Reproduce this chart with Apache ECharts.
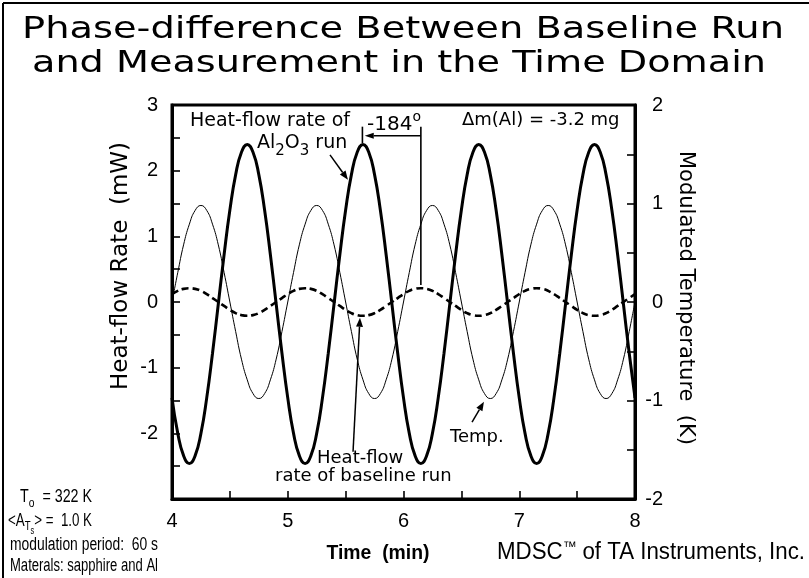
<!DOCTYPE html>
<html>
<head>
<meta charset="utf-8">
<script src="https://cdn.jsdelivr.net/npm/echarts@6/dist/echarts.min.js"></script>
<style>
  html, body { margin: 0; padding: 0; background: #fff; }
  #chart { width: 809px; height: 578px; }
</style>
</head>
<body>
<div id="chart"></div>
<script>
// Time axis samples (min)
const timeMin = [
  4.00, 4.05, 4.10, 4.15, 4.20, 4.25, 4.30, 4.35, 4.40, 4.45, 4.50, 4.55, 4.60, 4.65, 4.70, 4.75, 4.80, 4.85, 4.90, 4.95,
  5.00, 5.05, 5.10, 5.15, 5.20, 5.25, 5.30, 5.35, 5.40, 5.45, 5.50, 5.55, 5.60, 5.65, 5.70, 5.75, 5.80, 5.85, 5.90, 5.95,
  6.00, 6.05, 6.10, 6.15, 6.20, 6.25, 6.30, 6.35, 6.40, 6.45, 6.50, 6.55, 6.60, 6.65, 6.70, 6.75, 6.80, 6.85, 6.90, 6.95,
  7.00, 7.05, 7.10, 7.15, 7.20, 7.25, 7.30, 7.35, 7.40, 7.45, 7.50, 7.55, 7.60, 7.65, 7.70, 7.75, 7.80, 7.85, 7.90, 7.95,
  8.00
];

// Heat-flow rate of the Al2O3 (sapphire) run, mW
const heatFlowSample = [
  -1.46, -2.00, -2.34, -2.46, -2.34, -2.00, -1.46, -0.78, -0.03, 0.72, 1.40, 1.94, 2.28, 2.40, 2.28, 1.94, 1.40, 0.72, -0.03, -0.78,
  -1.46, -2.00, -2.34, -2.46, -2.34, -2.00, -1.46, -0.78, -0.03, 0.72, 1.40, 1.94, 2.28, 2.40, 2.28, 1.94, 1.40, 0.72, -0.03, -0.78,
  -1.46, -2.00, -2.34, -2.46, -2.34, -2.00, -1.46, -0.78, -0.03, 0.72, 1.40, 1.94, 2.28, 2.40, 2.28, 1.94, 1.40, 0.72, -0.03, -0.78,
  -1.46, -2.00, -2.34, -2.46, -2.34, -2.00, -1.46, -0.78, -0.03, 0.72, 1.40, 1.94, 2.28, 2.40, 2.28, 1.94, 1.40, 0.72, -0.03, -0.78,
  -1.46
];

// Heat-flow rate of the baseline (empty pans) run, mW
const heatFlowBaseline = [
  0.12, 0.17, 0.20, 0.21, 0.20, 0.17, 0.12, 0.06, 0.00, -0.06, -0.12, -0.17, -0.20, -0.21, -0.20, -0.17, -0.12, -0.06, 0.00, 0.06,
  0.12, 0.17, 0.20, 0.21, 0.20, 0.17, 0.12, 0.06, 0.00, -0.06, -0.12, -0.17, -0.20, -0.21, -0.20, -0.17, -0.12, -0.06, 0.00, 0.06,
  0.12, 0.17, 0.20, 0.21, 0.20, 0.17, 0.12, 0.06, 0.00, -0.06, -0.12, -0.17, -0.20, -0.21, -0.20, -0.17, -0.12, -0.06, 0.00, 0.06,
  0.12, 0.17, 0.20, 0.21, 0.20, 0.17, 0.12, 0.06, 0.00, -0.06, -0.12, -0.17, -0.20, -0.21, -0.20, -0.17, -0.12, -0.06, 0.00, 0.06,
  0.12
];

// Modulated sample temperature, K (right axis)
const modulatedTemp = [
  0.00, 0.30, 0.58, 0.79, 0.93, 0.98, 0.93, 0.79, 0.58, 0.30, 0.00, -0.30, -0.58, -0.79, -0.93, -0.98, -0.93, -0.79, -0.58, -0.30,
  0.00, 0.30, 0.58, 0.79, 0.93, 0.98, 0.93, 0.79, 0.58, 0.30, 0.00, -0.30, -0.58, -0.79, -0.93, -0.98, -0.93, -0.79, -0.58, -0.30,
  0.00, 0.30, 0.58, 0.79, 0.93, 0.98, 0.93, 0.79, 0.58, 0.30, 0.00, -0.30, -0.58, -0.79, -0.93, -0.98, -0.93, -0.79, -0.58, -0.30,
  0.00, 0.30, 0.58, 0.79, 0.93, 0.98, 0.93, 0.79, 0.58, 0.30, 0.00, -0.30, -0.58, -0.79, -0.93, -0.98, -0.93, -0.79, -0.58, -0.30,
  0.00
];

// Axis ranges, tick step and the tick values that carry a label
const timeRange = [4, 8];
const heatFlowRange = [-3, 3];
const tempRange = [-2, 2];
const tickStep = 0.5;
const timeTickLabels = [4, 5, 6, 7, 8];
const heatFlowTickLabels = [-2, -1, 0, 1, 2, 3];
const tempTickLabels = [-2, -1, 0, 1, 2];

// Phase-shift marker: peak of sample curve and peak of baseline curve (min)
const samplePeakTime = 5.645;
const baselinePeakTime = 6.15;
const phaseLabel = '-184';

const SANS = '"DejaVu Sans", "Liberation Sans", Arial, sans-serif';
const ARIAL = '"Liberation Sans", Arial, sans-serif';

const chart = echarts.init(document.getElementById('chart'), null, { renderer: 'canvas' });

const labelsFrom = list => v => (list.some(u => Math.abs(u - v) < 1e-9) ? String(Math.round(v)) : '');
const axisCommon = {
  type: 'value',
  interval: tickStep,
  axisLine: { show: true, onZero: false, lineStyle: { color: '#000', width: 3 } },
  axisTick: { show: true, inside: true, length: 8, lineStyle: { color: '#000', width: 1.6 } },
  splitLine: { show: false }
};
const labelStyle = { color: '#000', fontFamily: ARIAL, fontSize: 20 };

chart.setOption({
  animation: false,
  backgroundColor: '#fff',
  grid: { left: 172, top: 105, right: 174, bottom: 79, show: true, borderColor: '#000', borderWidth: 3, backgroundColor: 'transparent' },
  xAxis: Object.assign({}, axisCommon, {
    min: timeRange[0], max: timeRange[1],
    axisLabel: Object.assign({}, labelStyle, { margin: 12, formatter: labelsFrom(timeTickLabels) })
  }),
  yAxis: [
    Object.assign({}, axisCommon, {
      position: 'left', min: heatFlowRange[0], max: heatFlowRange[1],
      axisLabel: Object.assign({}, labelStyle, { margin: 14, formatter: labelsFrom(heatFlowTickLabels) })
    }),
    Object.assign({}, axisCommon, {
      position: 'right', min: tempRange[0], max: tempRange[1],
      axisLabel: Object.assign({}, labelStyle, { margin: 28, align: 'right', formatter: labelsFrom(tempTickLabels) })
    })
  ],
  series: [
    {
      name: 'Temp.', type: 'line', yAxisIndex: 1, smooth: true, showSymbol: false,
      lineStyle: { color: '#000', width: 1 },
      data: timeMin.map((t, i) => [t, modulatedTemp[i]])
    },
    {
      name: 'Baseline', type: 'line', yAxisIndex: 0, smooth: true, showSymbol: false,
      lineStyle: { color: '#000', width: 2.6, type: [7, 4] },
      data: timeMin.map((t, i) => [t, heatFlowBaseline[i]])
    },
    {
      name: 'Al2O3', type: 'line', yAxisIndex: 0, smooth: true, showSymbol: false,
      lineStyle: { color: '#000', width: 3 },
      data: timeMin.map((t, i) => [t, heatFlowSample[i]])
    }
  ]
});

// ---- annotations ----
const ctx = document.createElement('canvas').getContext('2d');
const tw = (text, font) => { ctx.font = font; return ctx.measureText(text).width; };
const px = (t, v, yAxisIndex = 0) => chart.convertToPixel({ xAxisIndex: 0, yAxisIndex }, [t, v]);

function text(str, x, y, font, opt = {}) {
  const align = opt.align || 'left';
  return {
    type: 'text', x, y, rotation: opt.rotation || 0, scaleX: opt.scaleX || 1, silent: true,
    style: { text: str, font, fill: '#000', align, verticalAlign: 'middle', textAlign: align, textVerticalAlign: 'middle' }
  };
}
// left-aligned sequence of text runs (own font and vertical offset each),
// optionally squeezed horizontally to a given total width
function runs(x, y, parts, width) {
  const total = parts.reduce((s, [str, font]) => s + tw(str, font), 0);
  const k = width ? width / total : 1;
  const out = [];
  for (const [str, font, dy] of parts) {
    out.push(text(str, x, y + (dy || 0), font, { scaleX: k }));
    x += tw(str, font) * k;
  }
  return out;
}
function fitted(str, cx, cy, family, size, width, weight = '') {
  const font = `${weight} ${size}px ${family}`.trim();
  const w = tw(str, font);
  return text(str, cx, cy, font, { align: 'center', scaleX: width / w });
}
function line(p0, p1, w = 1.5) {
  return { type: 'line', silent: true, shape: { x1: p0[0], y1: p0[1], x2: p1[0], y2: p1[1] }, style: { stroke: '#000', lineWidth: w } };
}
function arrow(p0, p1, head = 9, half = 3.5) {
  const dx = p1[0] - p0[0], dy = p1[1] - p0[1], L = Math.hypot(dx, dy);
  const ux = dx / L, uy = dy / L;
  const bx = p1[0] - ux * head, by = p1[1] - uy * head;
  return [
    line(p0, [bx, by], 1.5),
    { type: 'polygon', silent: true, shape: { points: [p1, [bx - uy * half, by + ux * half], [bx + uy * half, by - ux * half]] }, style: { fill: '#000' } }
  ];
}

const f19 = `19px ${SANS}`;
const f18 = `18px ${SANS}`;
const sub = `15px ${SANS}`;
const nar = `18px ${ARIAL}`;
const narSub = `13px ${ARIAL}`;
const narSub2 = `10px ${ARIAL}`;

const g = [];
// frame around the figure
g.push(line([3, 3], [809, 3], 2), line([3, 3], [3, 578], 2));

// title
g.push(fitted('Phase-difference Between Baseline Run', 403, 30, SANS, 30, 762));
g.push(fitted('and Measurement in the Time Domain', 399, 64, SANS, 30, 734));

// axis titles
g.push(text('Heat-flow Rate  (mW)', 121, 266, `23px ${SANS}`, { align: 'center', rotation: Math.PI / 2 }));
g.push(text('Modulated Temperature  (K)', 685, 298, `21px ${SANS}`, { align: 'center', rotation: -Math.PI / 2 }));
g.push(fitted('Time  (min)', 378, 553, ARIAL, 21, 103, 'bold'));
g.push(...runs(497, 553, [['MDSC', `23px ${ARIAL}`], ['™', `14px ${ARIAL}`, -6], [' of TA Instruments, Inc.', `23px ${ARIAL}`]], 308));

// curve labels
g.push(text('Heat-flow rate of', 190, 121.5, f19));
g.push(...runs(257, 143.5, [['Al', f19], ['2', sub, 8], ['O', f19], ['3', sub, 8], [' run', f19]]));
g.push(...arrow(px(5.365, 2.24), px(5.52, 1.86)));

g.push(text('Heat-flow', 317, 458.5, f18));
g.push(text('rate of baseline run', 275, 476.5, f18));
g.push(...arrow(px(5.564, -2.28), px(5.624, -0.24)));

g.push(text('Temp.', 450, 437, f18));
g.push(...arrow(px(6.592, -1.83), px(6.695, -1.52)));

g.push(text('\u0394m(Al) = -3.2 mg', 462, 120.5, f18));

// phase-shift marker between the two peaks
const yTop = 2.67, yBar = 2.53;
g.push(line(px(samplePeakTime, 2.42), px(samplePeakTime, yTop), 1.6));
g.push(line(px(baselinePeakTime, 0.26), px(baselinePeakTime, yTop), 1.6));
g.push(...arrow(px(baselinePeakTime, yBar), px(samplePeakTime + 0.02, yBar), 9, 3));
g.push(...runs(367, 124.5, [[phaseLabel, `20px ${SANS}`], ['o', `14px ${SANS}`, -7]]));

// experimental conditions
g.push(...runs(20, 497, [['T', nar], ['o', narSub, 6], ['  = 322 K', nar]], 72));
g.push(...runs(8, 521, [['<A', nar], ['T', narSub, 5], ['s', narSub2, 10], ['> =  1.0 K', nar]], 84));
g.push(...runs(10, 545, [['modulation period:  60 s', nar]], 148));
g.push(...runs(10, 566, [['Materals: sapphire and Al', nar]], 148));

chart.setOption({ graphic: { elements: g } });
</script>
</body>
</html>
